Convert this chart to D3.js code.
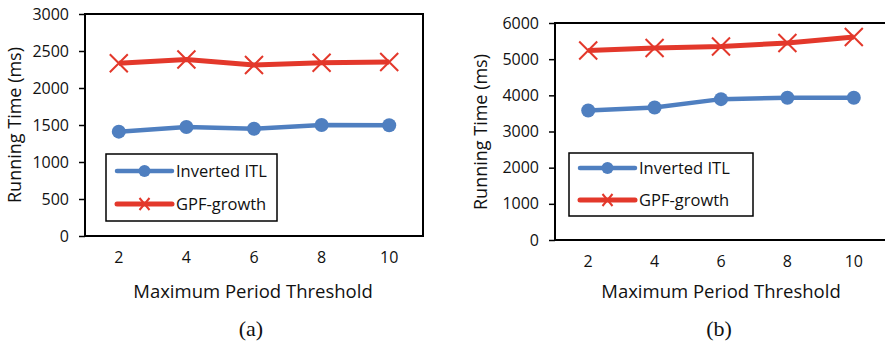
<!DOCTYPE html>
<html>
<head>
<meta charset="utf-8">
<script src="https://cdn.jsdelivr.net/npm/d3@7"></script>
<style>
  body { margin: 0; background: #fff; }
  svg { display: block; }
  text { font-family: "Open Sans", sans-serif; fill: #111; }
</style>
</head>
<body>
<svg id="vis" width="885" height="344"></svg>
<script>
// data
const THRESHOLDS = ["2", "4", "6", "8", "10"];
const SERIES_NAMES = ["Inverted ITL", "GPF-growth"];
const A_INVERTED = [1410, 1473, 1450, 1500, 1497];
const A_GPF = [2334, 2385, 2311, 2342, 2351];
const B_INVERTED = [3580, 3663, 3895, 3932, 3935];
const B_GPF = [5241, 5307, 5352, 5446, 5612];
const A_TICKS = [0, 500, 1000, 1500, 2000, 2500, 3000];
const B_TICKS = [0, 1000, 2000, 3000, 4000, 5000, 6000];

const BLUE = "#4f7fc0";
const RED = "#e3382b";

const SVG = d3.select("#vis");

function draw_chart(opts) {
  const g = SVG.append("g");

  const X_SCALE = d3.scaleBand()
                    .domain(THRESHOLDS)
                    .range([opts.left, opts.right]);

  const Y_SCALE = d3.scaleLinear()
                    .domain([0, d3.max(opts.ticks)])
                    .range([opts.bottom, opts.top]);

  // frame
  g.append("rect")
    .attr("x", opts.left)
    .attr("y", opts.top)
    .attr("width", opts.right - opts.left)
    .attr("height", opts.bottom - opts.top)
    .attr("fill", "none")
    .attr("stroke", "#000")
    .attr("stroke-width", 2);

  // y axis
  const yAxis = g.append("g")
    .attr("transform", "translate(" + opts.left + ",0)")
    .call(d3.axisLeft(Y_SCALE).tickValues(opts.ticks).tickFormat(d3.format("d"))
            .tickSize(6).tickPadding(10));
  yAxis.select(".domain").remove();
  yAxis.selectAll("line").attr("stroke", "#000").attr("stroke-width", 1.5);
  yAxis.selectAll("text").attr("font-size", "16px").attr("font-family", "Open Sans").attr("fill", "#111");

  // x axis labels
  const xAxis = g.append("g")
    .attr("transform", "translate(0," + opts.bottom + ")")
    .call(d3.axisBottom(X_SCALE).tickSize(0).tickPadding(opts.xpad));
  xAxis.select(".domain").remove();
  xAxis.selectAll("text").attr("font-size", "16px").attr("font-family", "Open Sans").attr("fill", "#111");

  const cx = (d, i) => X_SCALE(THRESHOLDS[i]) + X_SCALE.bandwidth() / 2;
  const line = d3.line().x(cx).y((d) => Y_SCALE(d));

  // GPF-growth line (red, x markers)
  g.append("path")
    .datum(opts.gpf)
    .attr("d", line)
    .attr("fill", "none")
    .attr("stroke", RED)
    .attr("stroke-width", 5);

  g.selectAll(".xm")
    .data(opts.gpf)
    .enter()
    .append("path")
      .attr("class", "xm")
      .attr("d", (d, i) => {
        const x = cx(d, i), y = Y_SCALE(d), s = 9;
        return "M" + (x - s) + "," + (y - s) + "L" + (x + s) + "," + (y + s) +
               "M" + (x - s) + "," + (y + s) + "L" + (x + s) + "," + (y - s);
      })
      .attr("stroke", RED)
      .attr("stroke-width", 2);

  // Inverted ITL line (blue, circles)
  g.append("path")
    .datum(opts.inverted)
    .attr("d", line)
    .attr("fill", "none")
    .attr("stroke", BLUE)
    .attr("stroke-width", 4.5);

  g.selectAll(".cm")
    .data(opts.inverted)
    .enter()
    .append("circle")
      .attr("class", "cm")
      .attr("cx", cx)
      .attr("cy", (d) => Y_SCALE(d))
      .attr("r", 7)
      .attr("fill", BLUE);

  // legend
  const lg = opts.legend;
  g.append("rect")
    .attr("x", lg.x)
    .attr("y", lg.y)
    .attr("width", lg.w)
    .attr("height", lg.h)
    .attr("fill", "#fff")
    .attr("stroke", "#000")
    .attr("stroke-width", 1.5);

  SERIES_NAMES.forEach((name, i) => {
    const y = lg.y + lg.row0 + i * lg.rowGap;
    const x0 = lg.x + 11, x1 = lg.x + 66, xm = (x0 + x1) / 2;
    const col = i === 0 ? BLUE : RED;
    g.append("line")
      .attr("x1", x0).attr("x2", x1)
      .attr("y1", y).attr("y2", y)
      .attr("stroke", col)
      .attr("stroke-width", i === 0 ? 4.5 : 5)
      .attr("stroke-linecap", "round");
    if (i === 0) {
      g.append("circle").attr("cx", xm).attr("cy", y).attr("r", 6).attr("fill", col);
    } else {
      g.append("path")
        .attr("d", "M" + (xm - 5) + "," + (y - 6) + "L" + (xm + 5) + "," + (y + 6) +
                   "M" + (xm - 5) + "," + (y + 6) + "L" + (xm + 5) + "," + (y - 6))
        .attr("stroke", col)
        .attr("stroke-width", 2);
    }
    g.append("text")
      .attr("x", x1 + 4)
      .attr("y", y)
      .attr("dy", "0.35em")
      .attr("font-size", "16.5px")
      .text(name);
  });

  // axis titles
  g.append("text")
    .attr("transform", "translate(" + opts.ytitleX + "," + opts.ytitleY + ") rotate(-90)")
    .attr("text-anchor", "middle")
    .attr("dy", "0.35em")
    .attr("font-size", "18px")
    .text("Running Time (ms)");

  g.append("text")
    .attr("x", opts.xtitleX)
    .attr("y", 292)
    .attr("text-anchor", "middle")
    .attr("dy", "0.35em")
    .attr("font-size", "18.5px")
    .text("Maximum Period Threshold");

  g.append("text")
    .attr("x", opts.xtitleX - 2)
    .attr("y", 328)
    .attr("text-anchor", "middle")
    .attr("dy", "0.35em")
    .attr("font-size", "22px")
    .style("font-family", "'Liberation Serif', serif")
    .text(opts.caption);
}

draw_chart({
  left: 85, right: 423, top: 14, bottom: 236,
  ticks: A_TICKS, inverted: A_INVERTED, gpf: A_GPF,
  xpad: 16, ytitleX: 15, ytitleY: 125, xtitleX: 253, caption: "(a)",
  legend: {x: 106, y: 154, w: 171, h: 67, row0: 17, rowGap: 33}
});

draw_chart({
  left: 555, right: 887, top: 23, bottom: 240,
  ticks: B_TICKS, inverted: B_INVERTED, gpf: B_GPF,
  xpad: 16, ytitleX: 481, ytitleY: 132, xtitleX: 721, caption: "(b)",
  legend: {x: 569, y: 153, w: 184, h: 63, row0: 15, rowGap: 32}
});
</script>
</body>
</html>
